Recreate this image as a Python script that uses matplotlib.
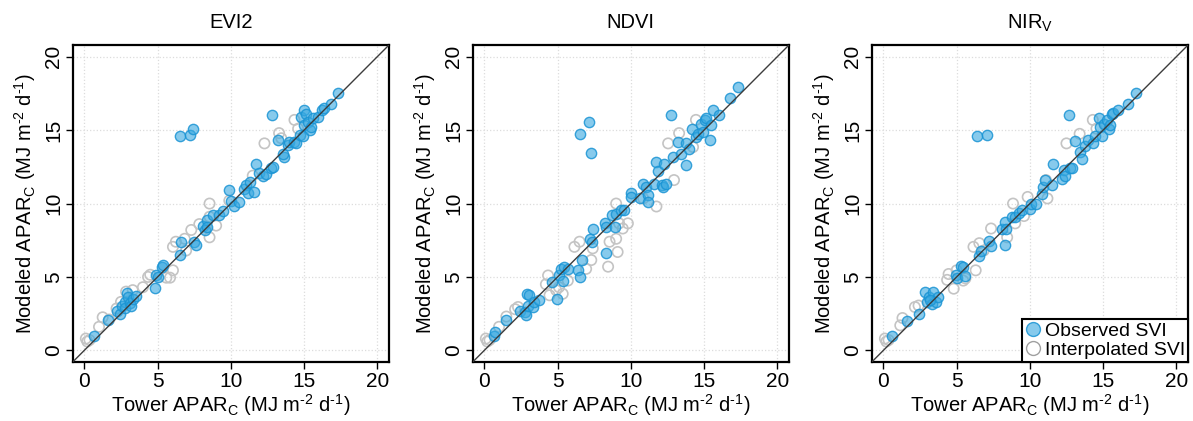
import numpy as np
import matplotlib
matplotlib.use("Agg")
import matplotlib.pyplot as plt
from matplotlib.lines import Line2D

plt.rcParams['font.family'] = ['Liberation Sans', 'DejaVu Sans']
plt.rcParams['mathtext.default'] = 'regular'

# panel titles
titles = ['EVI2', 'NDVI', 'NIR$_V$']

# EVI2 - observed SVI (tower, modeled)
evi2_obs_x = [0.64, 1.6, 2.2, 2.4, 2.6, 2.8, 2.8, 2.9, 3.0, 3.1, 3.2, 3.3, 3.5,
              4.8, 4.9, 5.0, 5.3, 5.35, 6.55, 6.6, 7.5, 7.6, 6.5, 7.2, 7.4,
              8.1, 8.25, 8.35, 8.4, 8.8, 9.2, 9.45, 9.85, 10.0, 10.25, 10.55,
              10.9, 11.05, 11.15, 11.3, 11.6, 11.7, 11.95, 12.2, 12.4, 12.75, 12.9,
              12.8, 13.2, 13.65, 13.55, 13.9, 14.0, 14.35, 14.45, 14.7, 14.8, 14.95,
              15.0, 15.0, 15.15, 15.25, 15.4, 15.5, 15.6, 15.95, 16.2, 16.4, 16.85, 17.3]
evi2_obs_y = [0.95, 2.05, 2.7, 2.5, 3.0, 3.3, 2.9, 3.9, 3.6, 3.2, 3.0, 3.5, 3.7,
              4.25, 5.1, 5.0, 5.7, 5.8, 6.5, 7.4, 7.4, 7.15, 14.6, 14.7, 15.05,
              8.5, 8.2, 8.85, 8.4, 9.2, 9.2, 9.5, 10.9, 10.2, 9.8, 10.1,
              11.0, 11.25, 10.7, 11.5, 10.8, 12.7, 12.05, 11.9, 12.0, 12.45, 12.5,
              16.0, 14.3, 13.2, 13.4, 14.0, 14.2, 14.2, 14.1, 14.65, 15.9, 14.6,
              16.4, 15.35, 16.1, 15.55, 15.0, 15.2, 15.85, 15.9, 16.35, 16.5, 16.8, 17.55]
# EVI2 - interpolated SVI
evi2_int_x = [0.1, 0.2, 0.35, 1.0, 1.25, 1.7, 2.2, 2.5, 2.85, 3.3, 4.0, 4.35, 4.5,
              5.6, 5.85, 6.05, 6.05, 6.25, 6.85, 6.95, 7.3, 7.85, 8.55, 8.55, 9.0,
              8.55, 9.9, 11.5, 12.3, 13.3, 13.45, 14.35, 14.6]
evi2_int_y = [0.8, 0.6, 0.7, 1.6, 2.25, 2.1, 2.85, 3.3, 4.0, 4.1, 4.3, 5.0, 5.15,
              4.95, 4.95, 5.45, 7.05, 7.4, 7.6, 6.8, 8.2, 8.6, 7.7, 10.0, 8.5,
              9.1, 10.2, 11.9, 14.1, 14.8, 14.45, 15.7, 15.1]

# NDVI - observed SVI
ndvi_obs_x = [0.64, 0.7, 1.5, 2.4, 2.75, 2.85, 2.9, 3.05, 2.95, 3.3, 3.4, 3.75,
              4.65, 4.95, 5.1, 5.25, 5.35, 5.45, 5.7, 6.4, 6.5, 6.7, 6.5, 7.15, 7.3,
              7.2, 7.4, 7.35, 8.3, 8.25, 8.3, 8.75, 8.9, 9.0, 9.35, 9.55,
              10.0, 10.0, 10.6, 10.8, 11.05, 11.15, 11.15, 11.6, 11.75, 11.85, 12.1,
              12.2, 12.3, 12.4, 12.75, 12.85, 13.2, 13.45, 13.75, 13.8, 14.0, 14.15,
              14.45, 14.6, 14.8, 14.9, 15.05, 15.15, 15.4, 15.5, 15.6, 16.05, 16.75, 17.3]
ndvi_obs_y = [0.95, 1.25, 2.05, 2.7, 2.6, 2.4, 3.85, 3.75, 3.05, 2.95, 3.3, 3.4,
              4.65, 3.5, 5.1, 5.55, 4.75, 5.7, 5.55, 5.45, 5.0, 6.15, 14.75, 15.55, 13.45,
              7.6, 8.3, 7.4, 6.6, 8.65, 8.4, 9.2, 8.4, 9.3, 9.55, 9.55,
              10.7, 10.45, 10.35, 11.35, 11.15, 10.55, 10.1, 11.35, 12.85, 12.25, 11.25,
              11.15, 12.7, 11.35, 16.0, 13.2, 14.2, 13.4, 12.6, 14.1, 13.75, 15.05,
              14.55, 14.75, 15.45, 14.9, 15.7, 15.8, 14.35, 15.35, 16.4, 16.0, 17.2, 17.95]
# NDVI - interpolated SVI
ndvi_int_x = [0.1, 0.2, 0.35, 1.0, 1.5, 2.1, 2.3, 4.2, 4.35, 4.45, 4.9, 5.1, 5.35,
              5.7, 6.15, 6.5, 7.3, 6.95, 7.4, 8.45, 8.55, 9.0, 9.1, 9.2, 9.45, 9.0,
              9.8, 10.85, 11.75, 12.95, 12.55, 13.3, 14.25, 14.45]
ndvi_int_y = [0.8, 0.6, 0.7, 1.6, 2.3, 2.8, 2.95, 4.5, 5.1, 3.75, 4.1, 4.3, 3.85,
              4.75, 7.05, 7.4, 6.15, 5.55, 6.95, 5.7, 7.4, 7.6, 6.7, 8.65, 8.3, 10.0,
              8.65, 10.35, 9.8, 11.6, 14.1, 14.8, 13.85, 15.7]

# NIRv - observed SVI
nirv_obs_x = [0.6, 1.6, 2.4, 2.85, 2.95, 3.1, 3.3, 3.4, 3.6, 3.75, 3.2,
              4.95, 5.0, 5.3, 5.45, 5.55, 6.55, 6.65, 7.2, 7.35, 8.3, 6.4, 7.1,
              8.1, 8.3, 8.4, 8.8, 9.0, 9.25, 9.45, 10.0, 10.05, 10.45, 10.8, 10.9,
              11.05, 11.5, 11.6, 12.2, 12.3, 12.4, 12.75, 12.85, 12.7,
              13.1, 13.45, 13.55, 13.8, 14.0, 14.3, 14.45, 14.7, 14.8, 14.9,
              15.05, 15.25, 15.4, 15.5, 15.6, 15.7, 16.05, 16.7, 17.25]
nirv_obs_y = [1.0, 2.0, 2.45, 3.95, 3.3, 3.6, 3.15, 3.95, 3.3, 3.6, 3.4,
              5.15, 4.9, 5.75, 5.7, 5.05, 6.45, 6.8, 7.45, 7.1, 7.2, 14.6, 14.65,
              8.3, 8.75, 8.25, 9.1, 9.1, 9.35, 9.55, 9.65, 10.0, 9.95, 10.65, 11.15,
              11.6, 11.25, 12.7, 11.7, 12.3, 11.85, 12.4, 12.45, 16.0,
              14.25, 13.5, 13.05, 13.95, 14.3, 14.1, 14.6, 15.85, 15.2, 14.6,
              15.4, 15.7, 15.1, 15.35, 16.1, 16.2, 16.35, 16.8, 17.55]
# NIRv - interpolated SVI
nirv_int_x = [0.1, 0.2, 0.35, 1.15, 1.3, 2.15, 2.4, 4.35, 4.45, 4.8, 5.0, 5.45,
              5.6, 6.15, 6.3, 6.55, 6.85, 7.35, 8.45, 8.85, 9.0, 9.6, 9.85, 11.2,
              11.1, 12.5, 13.4, 14.3, 14.55]
nirv_int_y = [0.8, 0.6, 0.7, 1.7, 2.2, 2.95, 3.05, 4.8, 5.2, 4.2, 5.45, 4.75,
              4.9, 7.05, 5.45, 7.3, 6.8, 8.3, 7.7, 10.0, 8.65, 9.15, 10.45, 10.35,
              11.6, 14.1, 14.75, 15.7, 15.1]

obs = [(evi2_obs_x, evi2_obs_y), (ndvi_obs_x, ndvi_obs_y), (nirv_obs_x, nirv_obs_y)]
interp = [(evi2_int_x, evi2_int_y), (ndvi_int_x, ndvi_int_y), (nirv_int_x, nirv_int_y)]

ticks = [0, 5, 10, 15, 20]
# plain hyphen (U+2010) in the superscripts, like the original figure
xlabel = 'Tower APAR$_C$ (MJ m$^{\u20102}$ d$^{\u20101}$)'
ylabel = 'Modeled APAR$_C$ (MJ m$^{\u20102}$ d$^{\u20101}$)'

blue_face = (0.22, 0.66, 0.88, 0.6)
blue_edge = (0.10, 0.58, 0.83, 0.85)
grey_edge = '#c4c4c4'

fig = plt.figure(figsize=(11.93, 4.21), dpi=100)
lefts = [0.0609, 0.3962, 0.7307]

for i in range(3):
    ax = fig.add_axes([lefts[i], 0.140, 0.2651, 0.753])
    ax.set_xlim(-0.8, 20.8)
    ax.set_ylim(-0.8, 20.8)
    ax.grid(True, color='#dcdcdc', linestyle=':', linewidth=0.9)
    ax.set_axisbelow(True)

    ix, iy = interp[i]
    ax.scatter(ix, iy, s=55, facecolors='none', edgecolors=grey_edge, linewidths=1.2, zorder=2)
    ox, oy = obs[i]
    ax.scatter(ox, oy, s=55, facecolors=[blue_face], edgecolors=[blue_edge], linewidths=1.0, zorder=3)
    ax.plot([-0.8, 20.8], [-0.8, 20.8], color='#3c3c3c', linewidth=1.0, zorder=4)

    ax.set_xticks(ticks)
    ax.set_yticks(ticks)
    ax.tick_params(axis='both', direction='out', length=5, width=1, labelsize=15, pad=2)
    for lab in ax.get_yticklabels():
        lab.set_rotation(90)
        lab.set_va('center')
    for sp in ax.spines.values():
        sp.set_linewidth(1.6)
    ax.set_xlabel(xlabel, fontsize=14.5, labelpad=1)
    ax.set_ylabel(ylabel, fontsize=14.5, labelpad=4)
    ax.set_title(titles[i], fontsize=14.5, pad=12)

    if i == 2:
        handles = [
            Line2D([], [], linestyle='none', marker='o', markersize=10,
                   markerfacecolor=blue_face, markeredgecolor=blue_edge),
            Line2D([], [], linestyle='none', marker='o', markersize=10,
                   markerfacecolor='none', markeredgecolor='#a0a0a0'),
        ]
        leg = ax.legend(handles, ['Observed SVI', 'Interpolated SVI'], loc='lower right',
                        fontsize=14, frameon=True, fancybox=False, framealpha=1,
                        edgecolor='black', borderaxespad=0, borderpad=0.15,
                        handlelength=0.8, handletextpad=0.2, labelspacing=0.1)
        leg.get_frame().set_linewidth(1.5)

fig.savefig('out.png', dpi=100)
